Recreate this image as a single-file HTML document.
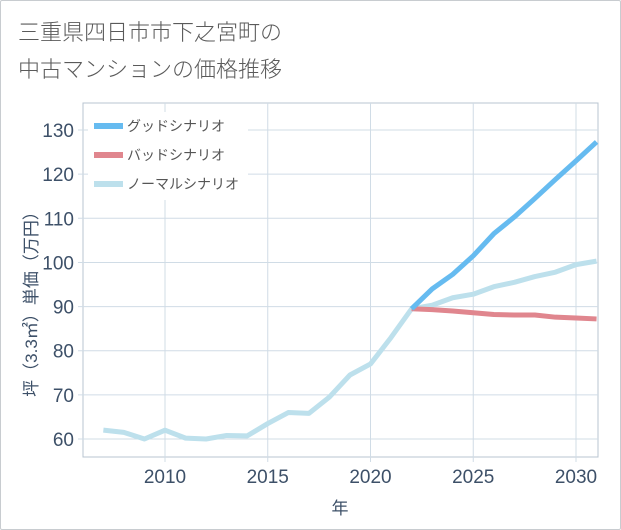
<!DOCTYPE html>
<html><head><meta charset="utf-8"><style>
body{margin:0;background:#fff;font-family:"Liberation Sans","Noto Sans CJK JP",sans-serif}
.frame{position:absolute;left:0;top:0;width:619px;height:528px;border:1px solid #c8ccd0;border-radius:2px}
</style></head><body>
<div class="frame"></div>
<svg width="621" height="530" style="position:absolute;left:0;top:0">
<text x="18" y="40" font-size="22" fill="#5a5a5a" font-weight="300">三重県四日市市下之宮町の</text>
<text x="18" y="77" font-size="22" fill="#5a5a5a" font-weight="300">中古マンションの価格推移</text>
<g id="grid"></g><g id="lines"></g>
</svg>
<script>
const years=[2007,2008,2009,2010,2011,2012,2013,2014,2015,2016,2017,2018,2019,2020,2021,2022,2023,2024,2025,2026,2027,2028,2029,2030,2031];
const normal=[62,61.5,60,62,60.2,60,60.8,60.7,63.5,66,65.8,69.5,74.5,77,83,89.5,90.3,92,92.8,94.5,95.5,96.8,97.8,99.5,100.3];
const futYears=[2022,2023,2024,2025,2026,2027,2028,2029,2030,2031];
const good=[89.5,94,97.3,101.5,106.5,110.3,114.5,118.8,123,127.3];
const bad=[89.5,89.3,89,88.6,88.2,88.1,88.1,87.6,87.4,87.2];
const yTicks=[60,70,80,90,100,110,120,130];
const xTicks=[2010,2015,2020,2025,2030];
const L=83,R=598,T=103,B=457;
const x=v=>165+(v-2010)*20.55;
const y=v=>439-(v-60)*4.414;
const ns="http://www.w3.org/2000/svg";
function mk(t,a,p){const e=document.createElementNS(ns,t);for(const k in a)e.setAttribute(k,a[k]);p.appendChild(e);return e;}
const g=document.getElementById('grid');
const bg=mk('rect',{x:L,y:T,width:R-L,height:B-T,fill:'#fff',stroke:'#b8c4d0'},g);


yTicks.forEach(v=>{
 const l=mk('line',{x1:L-5,x2:R,y1:y(v),y2:y(v),stroke:'#d0dce6'},g);
 
 
 const t=mk('text',{x:L-9,y:y(v)+7,'text-anchor':'end','font-size':'19',fill:'#3d5068'},g);t.textContent=v;
 
 
});
xTicks.forEach(v=>{
 const l=mk('line',{x1:x(v),x2:x(v),y1:T,y2:B+5,stroke:'#d0dce6'},g);
 
 
 const t=mk('text',{x:x(v),y:B+26,'text-anchor':'middle','font-size':'19',fill:'#3d5068'},g);t.textContent=v;
 
 
});
const xt=mk('text',{x:340,y:514,'text-anchor':'middle','font-size':'17',fill:'#3d5068'},g);xt.textContent='年';


const yt=mk('text',{x:0,y:0,transform:'translate(37,300) rotate(-90)','text-anchor':'middle','font-size':'17',fill:'#3d5068'},g);yt.textContent='坪（3.3㎡）単価（万円）';


const lg=document.getElementById('lines');
function series(xs,ys,c,name){
 const p=mk('polyline',{points:xs.map((v,i)=>x(v)+','+y(ys[i])).join(' '),fill:'none',stroke:c,'stroke-width':'5','stroke-linejoin':'round'},lg);
 
 
}
series(years,normal,'#bde0ec','normal-scenario-line');
series(futYears,bad,'#e0868e','bad-scenario-line');
series(futYears,good,'#66bbf0','good-scenario-line');
const leg=mk('rect',{x:88,y:112,width:160,height:88,fill:'#fff'},lg);


[['グッドシナリオ','#66bbf0'],['バッドシナリオ','#e0868e'],['ノーマルシナリオ','#bde0ec']].forEach((d,i)=>{
 const yy=126+i*29;
 const l=mk('line',{x1:94,x2:123,y1:yy,y2:yy,stroke:d[1],'stroke-width':'6'},lg);
 
 
 const t=mk('text',{x:127,y:yy+5,'font-size':'14',fill:'#555'},lg);t.textContent=d[0];
 
 
});
</script>
</body></html>
